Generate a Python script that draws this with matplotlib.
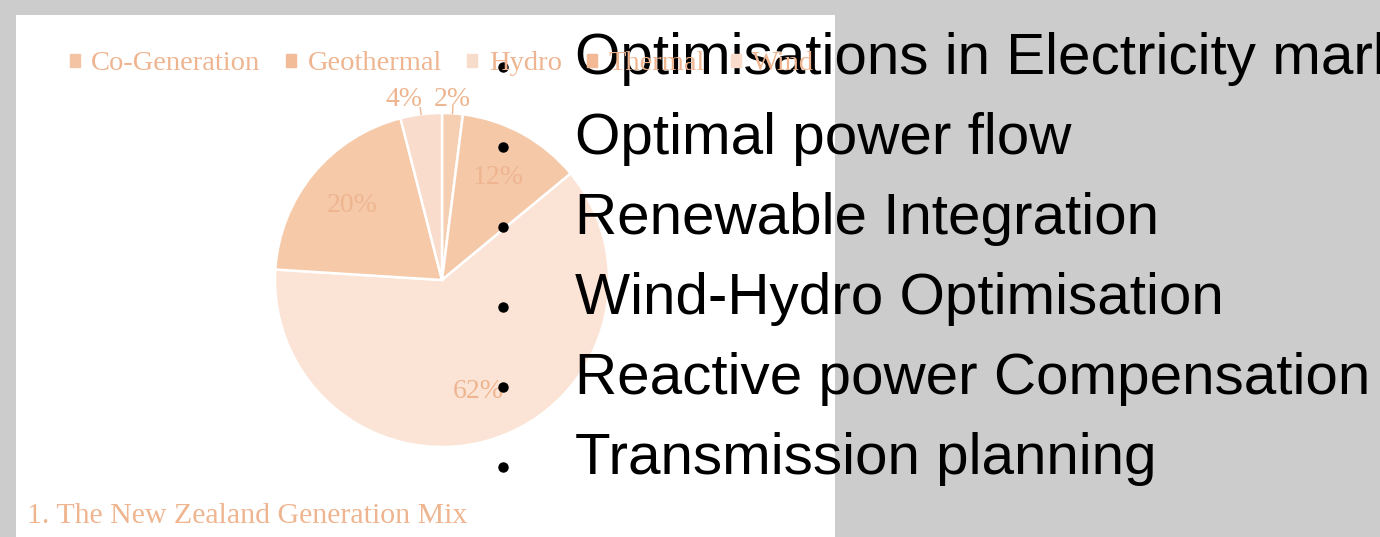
import matplotlib
matplotlib.use("Agg")
import matplotlib.pyplot as plt
import numpy as np
from matplotlib.patches import Rectangle

# pie data (NZ generation mix, %)
sources = ["Co-Generation", "Geothermal", "Hydro", "Thermal", "Wind"]
shares = [2, 12, 62, 20, 4]
slice_colors = ["#f6ceb2", "#f5c8a8", "#fbe4d5", "#f6c9a8", "#f9dccb"]
legend_colors = ["#f4c3a3", "#f2bc98", "#f8dccb", "#f2b994", "#f9dccb"]
caption = "1. The New Zealand Generation Mix"

bullets = [
    "Optimisations in Electricity markets",
    "Optimal power flow",
    "Renewable Integration",
    "Wind-Hydro Optimisation",
    "Reactive power Compensation",
    "Transmission planning",
]

W, H = 1380, 537
label_col = "#eeb590"

fig = plt.figure(figsize=(W / 100, H / 100), dpi=100)
fig.patch.set_facecolor("#cccccc")

# white slide panel
fig.add_artist(Rectangle((16 / W, 0), (835 - 16) / W, (H - 15) / H,
                         transform=fig.transFigure, facecolor="white",
                         edgecolor="none", zorder=0))

# pie axes: centre (442, 280) px, radius 167 px
r_px = 167
cx, cy = 442, 280
side = 2.5 * r_px
ax = fig.add_axes([(cx - side / 2) / W, (H - cy - side / 2) / H, side / W, side / H])
wedges, texts, autotexts = ax.pie(
    shares, colors=slice_colors, startangle=90, counterclock=False,
    autopct="%.0f%%", pctdistance=0.7,
    wedgeprops=dict(edgecolor="white", linewidth=1.8),
    textprops=dict(color=label_col, fontsize=20, family="Liberation Serif"),
)
ax.set_xlim(-1.25, 1.25)
ax.set_ylim(-1.25, 1.25)
ax.set_aspect("equal")
ax.axis("off")

# small slices: labels outside with short leader ticks
for w, t in zip(wedges, autotexts):
    mid = np.deg2rad((w.theta1 + w.theta2) / 2)
    if (w.theta2 - w.theta1) < 18:
        x0, y0 = np.cos(mid), np.sin(mid)
        ax.plot([x0, x0 * 1.04], [y0, y0 * 1.04], color=label_col, lw=1)
        if x0 < 0:
            t.set_position((x0 + 0.01, 1.08))
            t.set_ha("right")
        else:
            t.set_position((x0, 1.08))
            t.set_ha("center")
        t.set_va("center")

# legend
handles = [Rectangle((0, 0), 1, 1, color=c) for c in legend_colors]
fig.legend(handles, sources, loc="center", bbox_to_anchor=(cx / W, 1 - 64 / H),
           ncol=5, frameon=False, handlelength=0.35, handleheight=0.35,
           handletextpad=0.4, columnspacing=0.9,
           prop=dict(family="Liberation Serif", size=20.5), labelcolor=label_col)

fig.text(27 / W, 1 - 523 / H, caption, family="Liberation Serif", fontsize=21.5,
         color=label_col, va="baseline", ha="left")

# bullet list overlay in pixel coordinates
ov = fig.add_axes([0, 0, 1, 1])
ov.set_xlim(0, W)
ov.set_ylim(H, 0)
ov.axis("off")
ov.patch.set_alpha(0)
for i, item in enumerate(bullets):
    base = 74 + 80 * i
    ov.plot(503, base - 7, "o", color="black", markersize=6.5)
    ov.text(575, base, item, fontsize=42, family="Liberation Sans",
            color="black", va="baseline", ha="left")

fig.savefig("out.png", dpi=100, facecolor=fig.get_facecolor())
